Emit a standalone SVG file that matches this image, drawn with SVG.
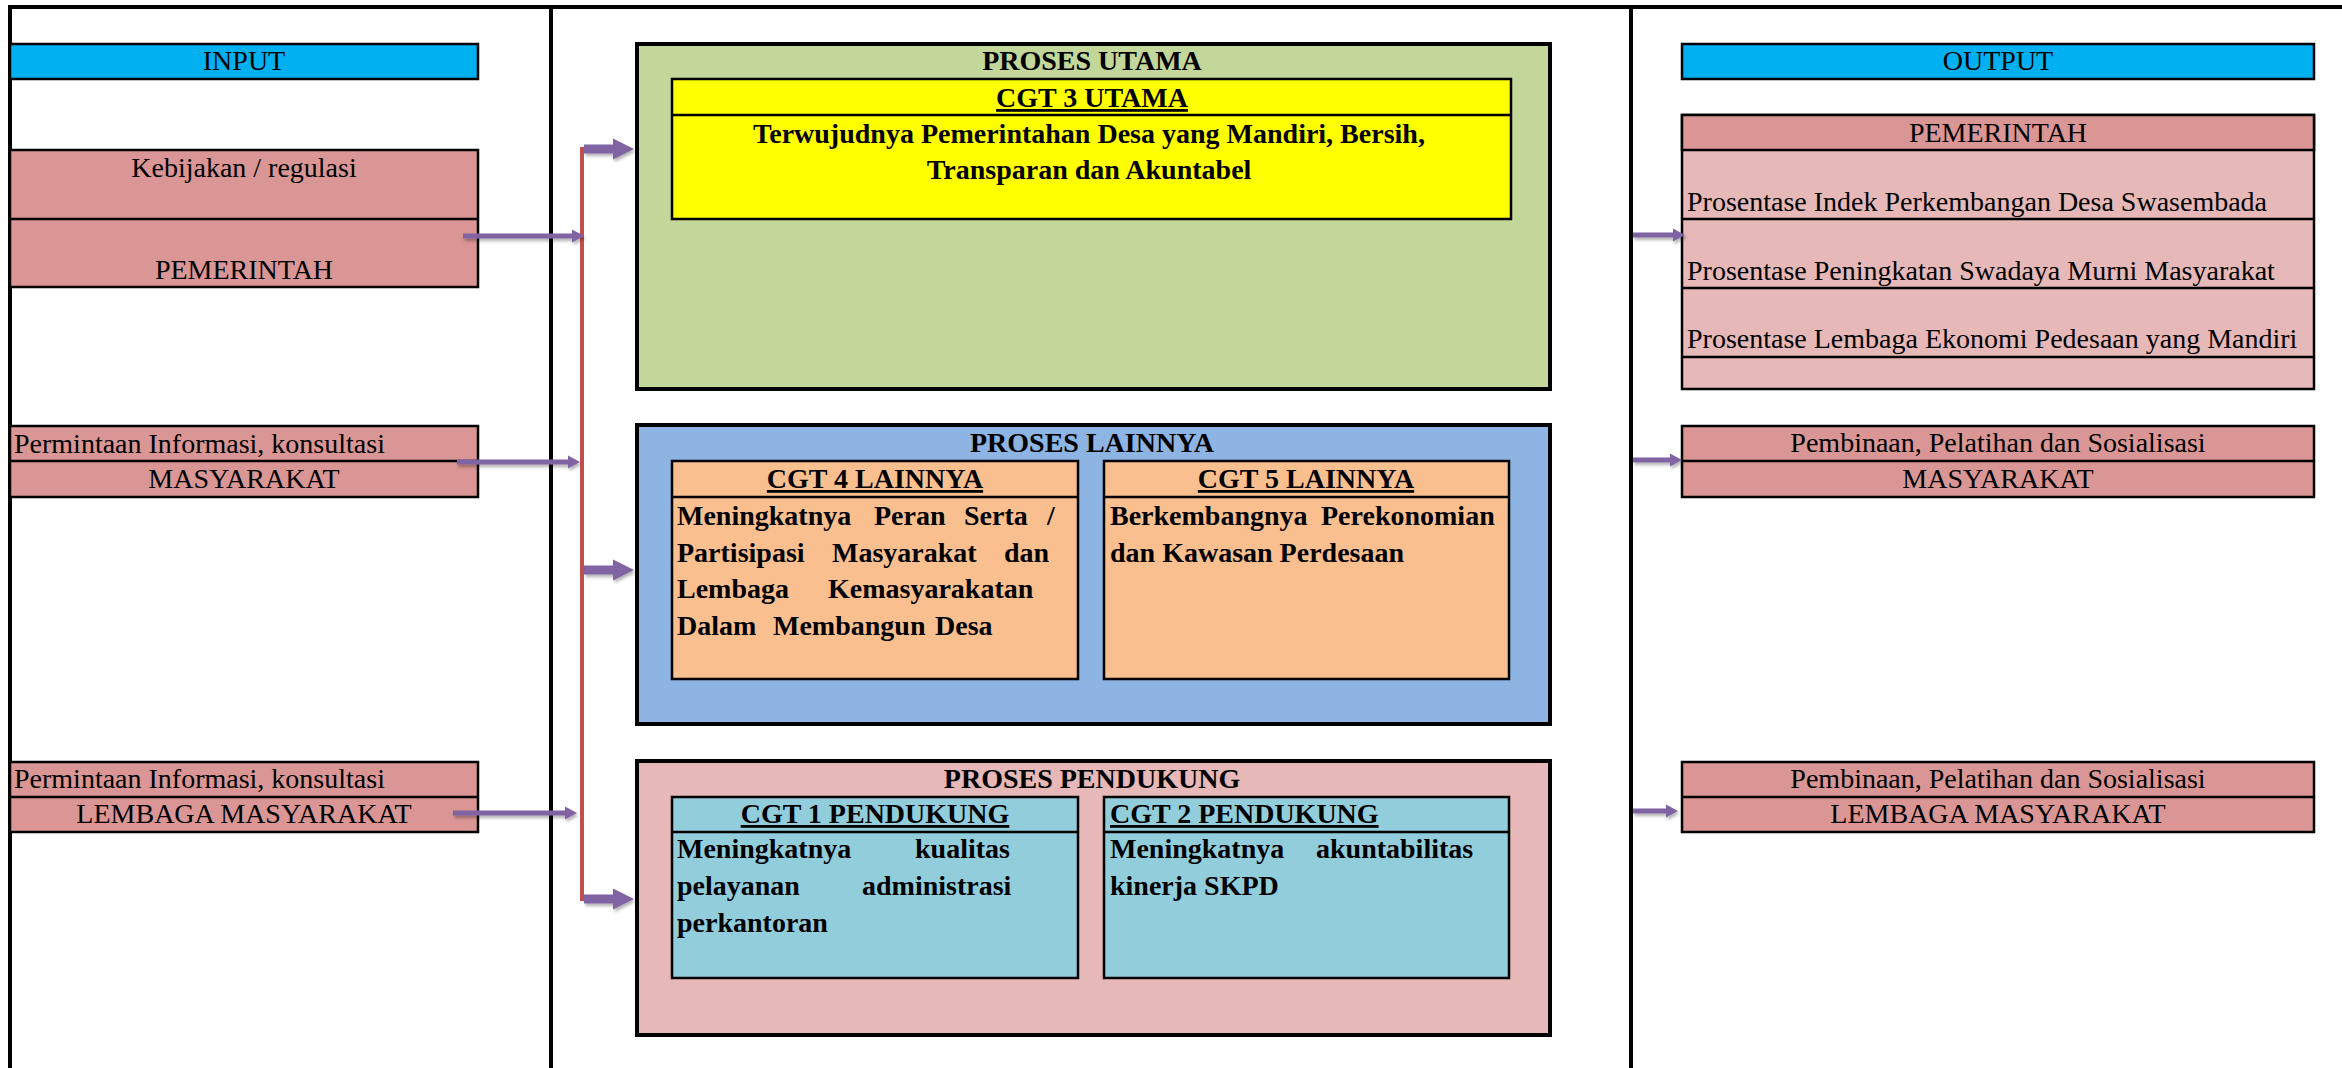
<svg xmlns="http://www.w3.org/2000/svg" width="2342" height="1068" viewBox="0 0 2342 1068">
<style>
.t{font-family:"Liberation Serif","Times New Roman",serif;font-size:28px;fill:#000}
.b{font-family:"Liberation Serif","Times New Roman",serif;font-size:28px;font-weight:bold;fill:#000}
.u{text-decoration:underline}
.c{text-anchor:middle}
.frame{stroke:#000;stroke-width:4;fill:none}
.box{stroke:#000;stroke-width:2.5}
.pbox{stroke:#000;stroke-width:4}
.blue{fill:#00B0F0}
.pink{fill:#DA9694}
.lpink{fill:#E6B8B7}
.arr{fill:#8064A2;filter:url(#sh)}
</style>
<defs>
<filter id="sh" x="-20%" y="-50%" width="140%" height="220%">
<feDropShadow dx="1.5" dy="2.5" stdDeviation="1.5" flood-color="#000" flood-opacity="0.3"/>
</filter>
</defs>
<g id="frame">
<line class="frame" x1="8" y1="7" x2="2342" y2="7"/>
<line class="frame" x1="10" y1="5" x2="10" y2="1068"/>
<line class="frame" x1="551" y1="5" x2="551" y2="1068"/>
<line class="frame" x1="1631" y1="5" x2="1631" y2="1068"/>
</g>
<g id="input-header">
<rect class="box blue" x="10" y="44" width="468" height="35"/>
<text class="t c" x="244" y="70">INPUT</text>
</g>
<g id="input-pemerintah">
<rect class="box pink" x="10" y="150" width="468" height="137"/>
<line class="box" x1="10" y1="219" x2="478" y2="219"/>
<text class="t c" x="244" y="177">Kebijakan / regulasi</text>
<text class="t c" x="244" y="279">PEMERINTAH</text>
</g>
<g id="input-masyarakat">
<rect class="box pink" x="10" y="426" width="468" height="71"/>
<line class="box" x1="10" y1="461" x2="478" y2="461"/>
<text class="t" x="14" y="453">Permintaan Informasi, konsultasi</text>
<text class="t c" x="244" y="488">MASYARAKAT</text>
</g>
<g id="input-lembaga">
<rect class="box pink" x="10" y="762" width="468" height="70"/>
<line class="box" x1="10" y1="797" x2="478" y2="797"/>
<text class="t" x="14" y="788">Permintaan Informasi, konsultasi</text>
<text class="t c" x="244" y="823">LEMBAGA MASYARAKAT</text>
</g>
<g id="proses-utama">
<rect class="pbox" x="637" y="44" width="913" height="345" fill="#C4D79B"/>
<text class="b c" x="1092" y="70">PROSES UTAMA</text>
<rect class="box" x="672" y="79" width="839" height="140" fill="#FFFF00"/>
<line class="box" x1="672" y1="115" x2="1511" y2="115"/>
<text class="b c u" x="1092" y="107">CGT 3 UTAMA</text>
<text class="b c" x="1089" y="143">Terwujudnya Pemerintahan Desa yang Mandiri, Bersih,</text>
<text class="b c" x="1089" y="179">Transparan dan Akuntabel</text>
</g>
<g id="proses-lainnya">
<rect class="pbox" x="637" y="425" width="913" height="299" fill="#8DB4E2"/>
<text class="b c" x="1092" y="452">PROSES LAINNYA</text>
</g>
<g id="cgt4">
<rect class="box" x="672" y="461" width="406" height="218" fill="#FABF8F"/>
<line class="box" x1="672" y1="497" x2="1078" y2="497"/>
<text class="b c u" x="875" y="488">CGT 4 LAINNYA</text>
<text class="b" y="525"><tspan x="677">Meningkatnya</tspan><tspan x="874">Peran</tspan><tspan x="964">Serta</tspan><tspan x="1047">/</tspan></text>
<text class="b" y="562"><tspan x="677">Partisipasi</tspan><tspan x="832">Masyarakat</tspan><tspan x="1004">dan</tspan></text>
<text class="b" y="598"><tspan x="677">Lembaga</tspan><tspan x="828">Kemasyarakatan</tspan></text>
<text class="b" y="635"><tspan x="677">Dalam</tspan><tspan x="773">Membangun</tspan><tspan x="935">Desa</tspan></text>
</g>
<g id="cgt5">
<rect class="box" x="1104" y="461" width="405" height="218" fill="#FABF8F"/>
<line class="box" x1="1104" y1="497" x2="1509" y2="497"/>
<text class="b c u" x="1306" y="488">CGT 5 LAINNYA</text>
<text class="b" y="525"><tspan x="1110">Berkembangnya</tspan><tspan x="1321">Perekonomian</tspan></text>
<text class="b" x="1110" y="562">dan Kawasan Perdesaan</text>
</g>
<g id="proses-pendukung">
<rect class="pbox" x="637" y="761" width="913" height="274" fill="#E6B8B7"/>
<text class="b c" x="1092" y="788">PROSES PENDUKUNG</text>
</g>
<g id="cgt1">
<rect class="box" x="672" y="797" width="406" height="181" fill="#92CDDC"/>
<line class="box" x1="672" y1="832" x2="1078" y2="832"/>
<text class="b c u" x="875" y="823">CGT 1 PENDUKUNG</text>
<text class="b" y="858"><tspan x="677">Meningkatnya</tspan><tspan x="915">kualitas</tspan></text>
<text class="b" y="895"><tspan x="677">pelayanan</tspan><tspan x="862">administrasi</tspan></text>
<text class="b" x="677" y="932">perkantoran</text>
</g>
<g id="cgt2">
<rect class="box" x="1104" y="797" width="405" height="181" fill="#92CDDC"/>
<line class="box" x1="1104" y1="832" x2="1509" y2="832"/>
<text class="b u" x="1110" y="823">CGT 2 PENDUKUNG</text>
<text class="b" y="858"><tspan x="1110">Meningkatnya</tspan><tspan x="1316">akuntabilitas</tspan></text>
<text class="b" x="1110" y="895">kinerja SKPD</text>
</g>
<g id="output-header">
<rect class="box blue" x="1682" y="44" width="632" height="35"/>
<text class="t c" x="1998" y="70">OUTPUT</text>
</g>
<g id="output-pemerintah">
<rect class="box lpink" x="1682" y="115" width="632" height="274"/>
<rect class="box pink" x="1682" y="115" width="632" height="35"/>
<line class="box" x1="1682" y1="219" x2="2314" y2="219"/>
<line class="box" x1="1682" y1="288" x2="2314" y2="288"/>
<line class="box" x1="1682" y1="357" x2="2314" y2="357"/>
<text class="t c" x="1998" y="142">PEMERINTAH</text>
<text class="t" x="1687" y="211">Prosentase Indek Perkembangan Desa Swasembada</text>
<text class="t" x="1687" y="280">Prosentase Peningkatan Swadaya Murni Masyarakat</text>
<text class="t" x="1687" y="348">Prosentase Lembaga Ekonomi Pedesaan yang Mandiri</text>
</g>
<g id="output-masyarakat">
<rect class="box pink" x="1682" y="426" width="632" height="71"/>
<line class="box" x1="1682" y1="461" x2="2314" y2="461"/>
<text class="t c" x="1998" y="452">Pembinaan, Pelatihan dan Sosialisasi</text>
<text class="t c" x="1998" y="488">MASYARAKAT</text>
</g>
<g id="output-lembaga">
<rect class="box pink" x="1682" y="762" width="632" height="70"/>
<line class="box" x1="1682" y1="797" x2="2314" y2="797"/>
<text class="t c" x="1998" y="788">Pembinaan, Pelatihan dan Sosialisasi</text>
<text class="t c" x="1998" y="823">LEMBAGA MASYARAKAT</text>
</g>
<g id="connectors">
<line x1="582" y1="147" x2="582" y2="901" stroke="#C0504D" stroke-width="4"/>
<polygon class="arr" points="584,144.5 613,144.5 613,138.5 634,149 613,159.5 613,153.5 584,153.5"/>
<polygon class="arr" points="584,565.5 613,565.5 613,559.5 634,570 613,580.5 613,574.5 584,574.5"/>
<polygon class="arr" points="584,894.5 613,894.5 613,888.5 634,899 613,909.5 613,903.5 584,903.5"/>
<polygon class="arr" points="463,233.5 572,233.5 572,229.5 584,236 572,242.5 572,238.5 463,238.5"/>
<polygon class="arr" points="457,459.5 568,459.5 568,455.5 580,462 568,468.5 568,464.5 457,464.5"/>
<polygon class="arr" points="453,810.5 565,810.5 565,806.5 577,813 565,819.5 565,815.5 453,815.5"/>
<polygon class="arr" points="1633,232.5 1673,232.5 1673,228.5 1685,235 1673,241.5 1673,237.5 1633,237.5"/>
<polygon class="arr" points="1633,457.5 1670,457.5 1670,453.5 1682,460 1670,466.5 1670,462.5 1633,462.5"/>
<polygon class="arr" points="1633,808.5 1666,808.5 1666,804.5 1678,811 1666,817.5 1666,813.5 1633,813.5"/>
</g>
</svg>
